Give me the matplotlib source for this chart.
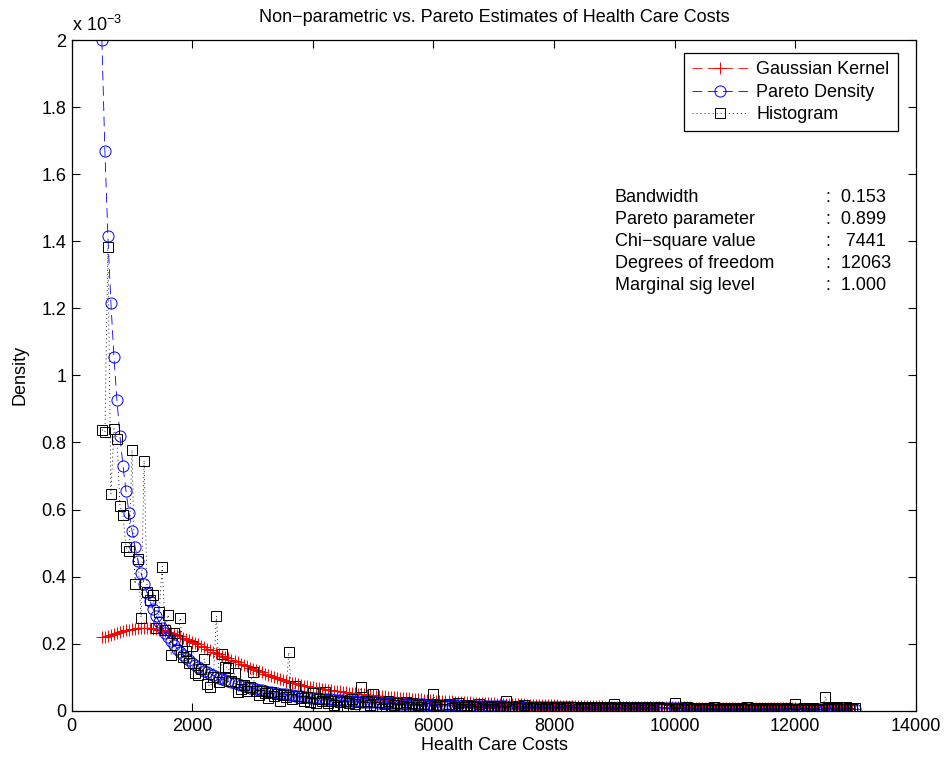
import matplotlib
matplotlib.use("Agg")
import matplotlib.pyplot as plt
from matplotlib.ticker import FuncFormatter

plt.rcParams['font.family'] = ['Liberation Sans', 'DejaVu Sans']
plt.rcParams['lines.scale_dashes'] = False

# bin centres of health care costs, 500 .. 13000 in steps of 50
costs = list(range(500, 13050, 50))

# densities, in units of 1e-3
kernel = [
    .219, .221, .224, .227, .230, .232, .235, .237, .240, .241,
    .243, .245, .246, .247, .247, .247, .246, .245, .244, .242,
    .240, .238, .235, .232, .229, .226, .222, .218, .214, .210,
    .206, .202, .198, .193, .189, .185, .181, .176, .172, .168,
    .164, .160, .156, .152, .148, .144, .140, .136, .132, .128,
    .124, .121, .117, .114, .110, .107, .104, .101, .098, .095,
    .092, .090, .087, .084, .082, .080, .077, .075, .073, .072,
    .070, .068, .067, .065, .064, .063, .061, .060, .059, .058,
    .056, .055, .054, .053, .052, .051, .050, .049, .048, .047,
    .046, .045, .044, .044, .043, .042, .041, .040, .040, .039,
    .038, .037, .037, .036, .035, .034, .034, .033, .032, .032,
    .031, .030, .030, .029, .029, .028, .028, .027, .027, .026,
    .026, .025, .025, .024, .024, .023, .023, .023, .022, .022,
    .022, .021, .021, .021, .020, .020, .020, .020, .019, .019,
    .019, .018, .018, .018, .017, .017, .017, .017, .016, .016,
    .016, .016, .015, .015, .015, .015, .015, .014, .014, .014,
    .014, .014, .013, .013, .013, .013, .013, .012, .012, .012,
    .012, .012, .012, .011, .011, .011, .011, .011, .011, .011,
    .011, .010, .010, .010, .010, .010, .010, .010, .010, .010,
    .010, .010, .010, .010, .010, .010, .009, .009, .009, .009,
    .009, .009, .009, .009, .009, .008, .008, .008, .008, .008,
    .008, .008, .008, .008, .008, .008, .008, .007, .007, .007,
    .007, .007, .007, .007, .007, .007, .007, .007, .007, .007,
    .007, .006, .006, .006, .006, .006, .006, .006, .006, .006,
    .006, .006, .006, .006, .006, .006, .006, .006, .006, .006,
    .006,
]

pareto = [
    2.000, 1.669, 1.415, 1.215, 1.056, 0.926, 0.819, 0.730, 0.655, 0.591,
    0.536, 0.489, 0.447, 0.411, 0.379, 0.351, 0.326, 0.303, 0.283, 0.265,
    0.248, 0.233, 0.220, 0.207, 0.196, 0.185, 0.176, 0.167, 0.158, 0.151,
    .1437, .1372, .1310, .1254, .1199, .1150, .1102, .1058, .1016, .0977,
    .0941, .0906, .0873, .0842, .0813, .0785, .0759, .0734, .0710, .0687,
    .0665, .0645, .0625, .0607, .0589, .0572, .0555, .0540, .0525, .0511,
    .0497, .0484, .0471, .0459, .0447, .0436, .0425, .0414, .0404, .0394,
    .0385, .0376, .0368, .0359, .0351, .0343, .0336, .0328, .0321, .0314,
    .0308, .0301, .0295, .0289, .0284, .0278, .0272, .0267, .0262, .0257,
    .0252, .0247, .0243, .0238, .0234, .0230, .0226, .0222, .0218, .0214,
    .0210, .0207, .0204, .0200, .0197, .0193, .0190, .0187, .0184, .0181,
    .0178, .0175, .0173, .0170, .0168, .0165, .0163, .0160, .0158, .0155,
    .0153, .0151, .0149, .0147, .0145, .0143, .0141, .0139, .0137, .0135,
    .0133, .0131, .0130, .0128, .0126, .0125, .0123, .0122, .0120, .0118,
    .0117, .0115, .0114, .0112, .0111, .0110, .0108, .0107, .0106, .0104,
    .0103, .0102, .0101, .0100, .0099, .0097, .0096, .0095, .0094, .0093,
    .0092, .0091, .0090, .0089, .0088, .0087, .0086, .0085, .0084, .0083,
    .0083, .0082, .0081, .0080, .0079, .0078, .0078, .0077, .0076, .0075,
    .0075, .0074, .0073, .0072, .0072, .0071, .0070, .0069, .0069, .0068,
    .0068, .0067, .0066, .0066, .0065, .0065, .0064, .0063, .0063, .0062,
    .0062, .0061, .0061, .0060, .0060, .0059, .0058, .0058, .0057, .0057,
    .0056, .0056, .0055, .0055, .0055, .0054, .0054, .0053, .0053, .0052,
    .0052, .0052, .0051, .0051, .0050, .0050, .0049, .0049, .0049, .0048,
    .0048, .0048, .0047, .0047, .0046, .0046, .0046, .0045, .0045, .0045,
    .0044, .0044, .0044, .0043, .0043, .0043, .0042, .0042, .0042, .0041,
    .0041,
]

histogram = [
    .838, .831, 1.382, .647, .841, .811, .611, .585, .488, .475,
    .778, .378, .452, .278, .746, .355, .330, .344, .246, .293,
    .430, .241, .286, .165, .231, .211, .277, .159, .178, .143,
    .192, .113, .107, .125, .155, .079, .072, .100, .283, .085,
    .168, .131, .128, .090, .112, .055, .066, .078, .060, .070,
    .116, .058, .048, .060, .052, .037, .055, .045, .050, .029,
    .046, .040, .174, .035, .075, .045, .038, .030, .042, .025,
    .052, .022, .035, .028, .057, .022, .030, .018, .012, .027,
    .015, .030, .022, .035, .020, .025, .070, .012, .028, .018,
    .049, .010, .025, .005, .020, .028, .008, .018, .022, .005,
    .015, .025, .010, .022, .005, .018, .012, .020, .008, .015,
    .049, .010, .018, .005, .015, .020, .008, .012, .022, .005,
    .012, .018, .005, .015, .010, .020, .008, .005, .014, .010,
    .005, .015, .008, .012, .030, .012, .005, .010, .014, .008,
    .017, .005, .012, .008, .010, .005, .012, .008, .005, .010,
    .008, .012, .005, .010, .008, .003, .010, .012, .005, .008,
    .010, .005, .008, .012, .003, .008, .010, .005, .008, .012,
    .019, .005, .008, .010, .003, .008, .005, .010, .008, .003,
    .008, .010, .005, .003, .008, .010, .005, .008, .003, .005,
    .022, .005, .008, .003, .010, .005, .008, .003, .005, .008,
    .005, .008, .003, .010, .005, .003, .008, .005, .003, .008,
    .005, .003, .008, .005, .010, .003, .005, .008, .003, .005,
    .008, .003, .005, .008, .003, .005, .003, .008, .005, .003,
    .019, .005, .003, .008, .005, .003, .008, .005, .003, .005,
    .042, .008, .005, .010, .008, .012, .005, .010, .008, .005,
    .008,
]

stat_names = ['Bandwidth', 'Pareto parameter', 'Chi\u2212square value',
              'Degrees of freedom', 'Marginal sig level']
stat_values = [':  0.153', ':  0.899', ':   7441', ':  12063', ':  1.000']

FS = 13

fig = plt.figure(figsize=(9.44, 7.62), dpi=100)
ax = fig.add_axes([0.076, 0.0673, 0.894, 0.880])

scale = 1e-3
ax.plot(costs, [v * scale for v in kernel], color='red', linestyle='--', dashes=(7, 4),
        linewidth=0.6, marker='+', markersize=8, markeredgewidth=0.7, label='Gaussian Kernel')
ax.plot(costs, [v * scale for v in pareto], color='blue', linestyle='--', dashes=(7, 4),
        linewidth=0.6, marker='o', markersize=8, markerfacecolor='none', markeredgewidth=0.7,
        label='Pareto Density')
ax.plot(costs, [v * scale for v in histogram], color='black', linestyle=':', dashes=(0.7, 2.2),
        linewidth=0.6, marker='s', markersize=7, markerfacecolor='none', markeredgewidth=0.7,
        label='Histogram')

ax.set_xlim(0, 14000)
ax.set_ylim(0, 2e-3)
ax.set_xticks(range(0, 14001, 2000))
ax.set_yticks([i * 0.2e-3 for i in range(11)])
ax.yaxis.set_major_formatter(FuncFormatter(lambda v, p: '%g' % round(v * 1e3, 1)))
ax.tick_params(direction='in', length=6, width=0.8, top=True, right=True,
               labelsize=FS, pad=5)
ax.tick_params(axis='y', pad=4)
for s in ax.spines.values():
    s.set_linewidth(0.9)

fig.text(72 / 944, 1 - 31 / 762, 'x 10$^{\\mathregular{-3}}$', fontsize=FS, ha='left', va='baseline')
fig.text(494 / 944, 1 - 17 / 762, 'Non\u2212parametric vs. Pareto Estimates of Health Care Costs',
         fontsize=FS, ha='center', va='center')
fig.text(494 / 944, 1 - 745 / 762, 'Health Care Costs', fontsize=FS, ha='center', va='center')
fig.text(20 / 944, 1 - 375 / 762, 'Density', fontsize=FS, ha='center', va='center', rotation=90)

row_y = [197, 219.5, 241.5, 263.5, 285.5]
for name, val, y in zip(stat_names, stat_values, row_y):
    fig.text(615 / 944, 1 - y / 762, name, fontsize=FS, ha='left', va='center')
    fig.text(826 / 944, 1 - y / 762, val, fontsize=FS, ha='left', va='center')

leg = ax.legend(loc='upper right', bbox_to_anchor=(897.7 / 944, 1 - 53.3 / 762),
                bbox_transform=fig.transFigure, borderaxespad=0, fontsize=FS,
                fancybox=False, framealpha=1, edgecolor='black', handlelength=3.1,
                handletextpad=0.45, labelspacing=0.3, borderpad=0.45, numpoints=1)
leg.get_frame().set_linewidth(0.9)

fig.savefig('out.png', dpi=100)
